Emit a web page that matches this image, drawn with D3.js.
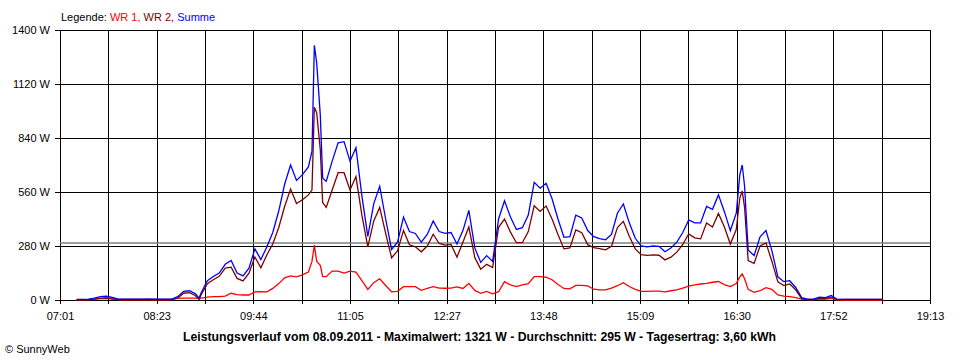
<!DOCTYPE html>
<html>
<head>
<meta charset="utf-8">
<script src="https://cdn.jsdelivr.net/npm/d3@7"></script>
<style>
  body { margin: 0; background: #fff; }
  svg { display: block; font-family: 'Liberation Sans', Arial, sans-serif; }
</style>
</head>
<body>
<svg id="chart" width="960" height="360"></svg>
<script>
// Messzeitpunkte (5-Minuten-Raster, ein paar Zwischenwerte an Spitzen)
const times = [
  '07:15', '07:20', '07:25', '07:30', '07:35', '07:40', '07:45', '07:50', '07:55',
  '08:00', '08:05', '08:10', '08:15', '08:20', '08:25', '08:30', '08:35', '08:40', '08:45', '08:50', '08:55', '08:58',
  '09:00', '09:05', '09:10', '09:15', '09:20', '09:25', '09:30', '09:35', '09:40', '09:45', '09:50', '09:55',
  '10:00', '10:05', '10:10', '10:15', '10:20', '10:25', '10:30', '10:33', '10:35', '10:37', '10:40', '10:42', '10:45', '10:50', '10:55',
  '11:00', '11:05', '11:10', '11:15', '11:20', '11:25', '11:30', '11:35', '11:40', '11:45', '11:50', '11:55',
  '12:00', '12:05', '12:10', '12:15', '12:20', '12:25', '12:30', '12:35', '12:40', '12:45', '12:50', '12:55',
  '13:00', '13:05', '13:10', '13:15', '13:20', '13:25', '13:30', '13:35', '13:40', '13:45', '13:50', '13:55',
  '14:00', '14:05', '14:10', '14:15', '14:20', '14:25', '14:30', '14:35', '14:40', '14:45', '14:50', '14:55',
  '15:00', '15:05', '15:10', '15:15', '15:20', '15:25', '15:30', '15:35', '15:40', '15:45', '15:50', '15:55',
  '16:00', '16:05', '16:10', '16:15', '16:20', '16:25', '16:30', '16:33', '16:35', '16:37', '16:40', '16:45', '16:50', '16:55',
  '17:00', '17:05', '17:10', '17:15', '17:20', '17:25', '17:30', '17:35', '17:40', '17:45', '17:50', '17:55',
  '18:00', '18:05', '18:10', '18:15', '18:20', '18:25', '18:30', '18:33',
]

// WR 1 (rot)
const wr1 = [
  1, 1, 2, 5, 10, 12, 9, 2, 1,
  1, 1, 1, 1, 1, 1, 1, 2, 8, 10, 10, 10, 8,
  10, 15, 17, 17, 20, 35, 28, 26, 26, 42, 43, 42,
  60, 85, 115, 125, 120, 130, 145, 200, 285, 200, 180, 121, 121, 150, 150,
  140, 150, 145, 100, 55, 90, 110, 75, 43, 45, 69, 69,
  69, 50, 60, 69, 62, 61, 62, 68, 60, 86, 50, 35,
  45, 32, 43, 95, 78, 69, 78, 85, 121, 121, 118, 105,
  80, 60, 58, 76, 76, 73, 56, 52, 52, 62, 74, 90,
  70, 55, 45, 45, 46, 46, 42, 48, 52, 62, 72, 78,
  83, 86, 92, 96, 80, 70, 85, 120, 135, 110, 55, 40, 48, 64,
  55, 26, 20, 17, 12, 5, 2, 2, 6, 5, 8, 1,
  0, 0, 0, 0, 0, 0, 0, 0,
]

// WR 2 (dunkelrot)
const wr2 = [
  2, 2, 2, 5, 7, 8, 5, 3, 3,
  3, 3, 3, 4, 3, 3, 3, 3, 9, 35, 38, 22, 2,
  30, 85, 105, 123, 165, 170, 112, 99, 139, 223, 167, 233,
  290, 375, 485, 575, 500, 520, 545, 570, 1000, 970, 780, 505, 480, 570, 660,
  660, 570, 640, 440, 275, 410, 480, 345, 219, 255, 361, 286,
  276, 250, 280, 341, 293, 285, 288, 222, 300, 379, 220, 160,
  185, 168, 377, 420, 352, 297, 297, 355, 489, 459, 487, 420,
  340, 265, 270, 364, 349, 287, 272, 266, 260, 278, 376, 408,
  330, 265, 235, 231, 234, 232, 208, 222, 248, 288, 343, 322,
  317, 399, 378, 449, 378, 290, 365, 530, 565, 480, 205, 190, 280, 296,
  200, 94, 75, 83, 53, 7, 2, 2, 9, 7, 16, 2,
  3, 3, 3, 3, 3, 3, 3, 3,
]

// Summe (blau)
const summe = [
  3, 3, 4, 10, 17, 20, 14, 5, 4,
  4, 4, 4, 5, 4, 4, 4, 5, 17, 45, 48, 32, 10,
  40, 100, 122, 140, 185, 205, 140, 125, 165, 265, 210, 275,
  350, 460, 600, 700, 620, 650, 690, 770, 1321, 1227, 960, 632, 615, 720, 815,
  821, 720, 790, 540, 330, 500, 590, 420, 262, 300, 430, 355,
  345, 300, 340, 410, 355, 346, 350, 290, 360, 465, 270, 195,
  230, 200, 420, 515, 430, 366, 375, 440, 610, 580, 605, 525,
  420, 325, 328, 440, 425, 360, 328, 318, 312, 340, 450, 498,
  400, 320, 280, 276, 280, 278, 250, 270, 300, 350, 415, 400,
  400, 485, 470, 545, 458, 360, 450, 650, 700, 590, 260, 230, 328, 360,
  255, 120, 95, 100, 65, 12, 4, 4, 15, 12, 24, 3,
  3, 3, 3, 3, 3, 3, 3, 3,
]

const yTicks = [0, 280, 560, 840, 1120, 1400]
const xTickLabels = ['07:01', '08:23', '09:44', '11:05', '12:27', '13:48', '15:09', '16:30', '17:52', '19:13']
const average = 295
const title =
  'Leistungsverlauf vom 08.09.2011 - Maximalwert: 1321 W - Durchschnitt: 295 W - Tagesertrag: 3,60 kWh'

const parseTime = d3.timeParse('%H:%M')
const svg = d3.select('#chart')

const plotLeft = 60,
  plotRight = 930,
  plotTop = 30,
  plotBottom = 300

const t0 = parseTime('07:01'),
  t1 = parseTime('19:13')
const x = d3.scaleTime().domain([t0, t1]).range([plotLeft, plotRight])
const y = d3.scaleLinear().domain([0, 1400]).range([plotBottom, plotTop])

// 18 Intervalle, jede zweite Linie beschriftet
const gridTimes = d3.range(19).map((i) => new Date(+t0 + (i * (t1 - t0)) / 18))

const grid = svg.append('g').attr('stroke', '#000').attr('stroke-width', 1).attr('shape-rendering', 'crispEdges')

grid
  .selectAll('.v')
  .data(gridTimes)
  .enter()
  .append('line')
  .attr('x1', (d) => Math.round(x(d)) + 0.5)
  .attr('x2', (d) => Math.round(x(d)) + 0.5)
  .attr('y1', plotTop)
  .attr('y2', plotBottom + 4)

grid
  .selectAll('.h')
  .data(yTicks)
  .enter()
  .append('line')
  .attr('x1', plotLeft - 5)
  .attr('x2', plotRight + 1)
  .attr('y1', (d) => Math.round(y(d)) + 0.5)
  .attr('y2', (d) => Math.round(y(d)) + 0.5)

// Durchschnittslinie
svg
  .append('line')
  .attr('x1', plotLeft)
  .attr('x2', plotRight)
  .attr('y1', y(average))
  .attr('y2', y(average))
  .attr('stroke', '#808080')
  .attr('stroke-width', 1.5)

// Y-Achse (nur Beschriftung)
const yAxis = svg
  .append('g')
  .attr('transform', 'translate(' + plotLeft + ',0)')
  .call(
    d3
      .axisLeft(y)
      .tickValues(yTicks)
      .tickSize(0)
      .tickPadding(10)
      .tickFormat((d) => d + ' W')
  )
yAxis.select('.domain').remove()
yAxis.selectAll('text').attr('font-size', 11).attr('fill', '#000').attr('font-family', "'Liberation Sans', Arial, sans-serif")

// X-Achse (nur Beschriftung)
const xAxis = svg
  .append('g')
  .attr('transform', 'translate(0,' + plotBottom + ')')
  .call(
    d3
      .axisBottom(x)
      .tickValues(gridTimes.filter((d, i) => i % 2 === 0))
      .tickSize(0)
      .tickPadding(12)
      .tickFormat((d, i) => xTickLabels[i])
  )
xAxis.select('.domain').remove()
xAxis.selectAll('text').attr('font-size', 11).attr('fill', '#000').attr('font-family', "'Liberation Sans', Arial, sans-serif")

// Datenreihen
const rows = times.map((t, i) => ({ t: parseTime(t), wr1: wr1[i], wr2: wr2[i], summe: summe[i] }))

const series = [
  { key: 'wr1', color: '#ff0000' },
  { key: 'wr2', color: '#800000' },
  { key: 'summe', color: '#0000ff' },
]

series.forEach((s) => {
  const line = d3
    .line()
    .x((d) => x(d.t))
    .y((d) => y(d[s.key]))
  svg
    .append('path')
    .datum(rows)
    .attr('fill', 'none')
    .attr('stroke', s.color)
    .attr('stroke-width', 1.3)
    .attr('stroke-linejoin', 'miter')
    .attr('d', line)
})

// Legende
const legend = svg
  .append('text')
  .attr('x', 61)
  .attr('y', 20.5)
  .attr('font-size', 11)
legend.append('tspan').attr('fill', '#000').text('Legende: ')
legend.append('tspan').attr('fill', '#ff0000').text('WR 1, ')
legend.append('tspan').attr('fill', '#800000').text('WR 2, ')
legend.append('tspan').attr('fill', '#0000ff').text('Summe')

// Titel
svg
  .append('text')
  .attr('x', 183)
  .attr('y', 341)
  .attr('font-size', 12)
  .attr('font-weight', 'bold')
  .attr('textLength', 593)
  .attr('lengthAdjust', 'spacingAndGlyphs')
  .text(title)

svg.append('text').attr('x', 5).attr('y', 353).attr('font-size', 11).text('\u00a9 SunnyWeb')
</script>
</body>
</html>
